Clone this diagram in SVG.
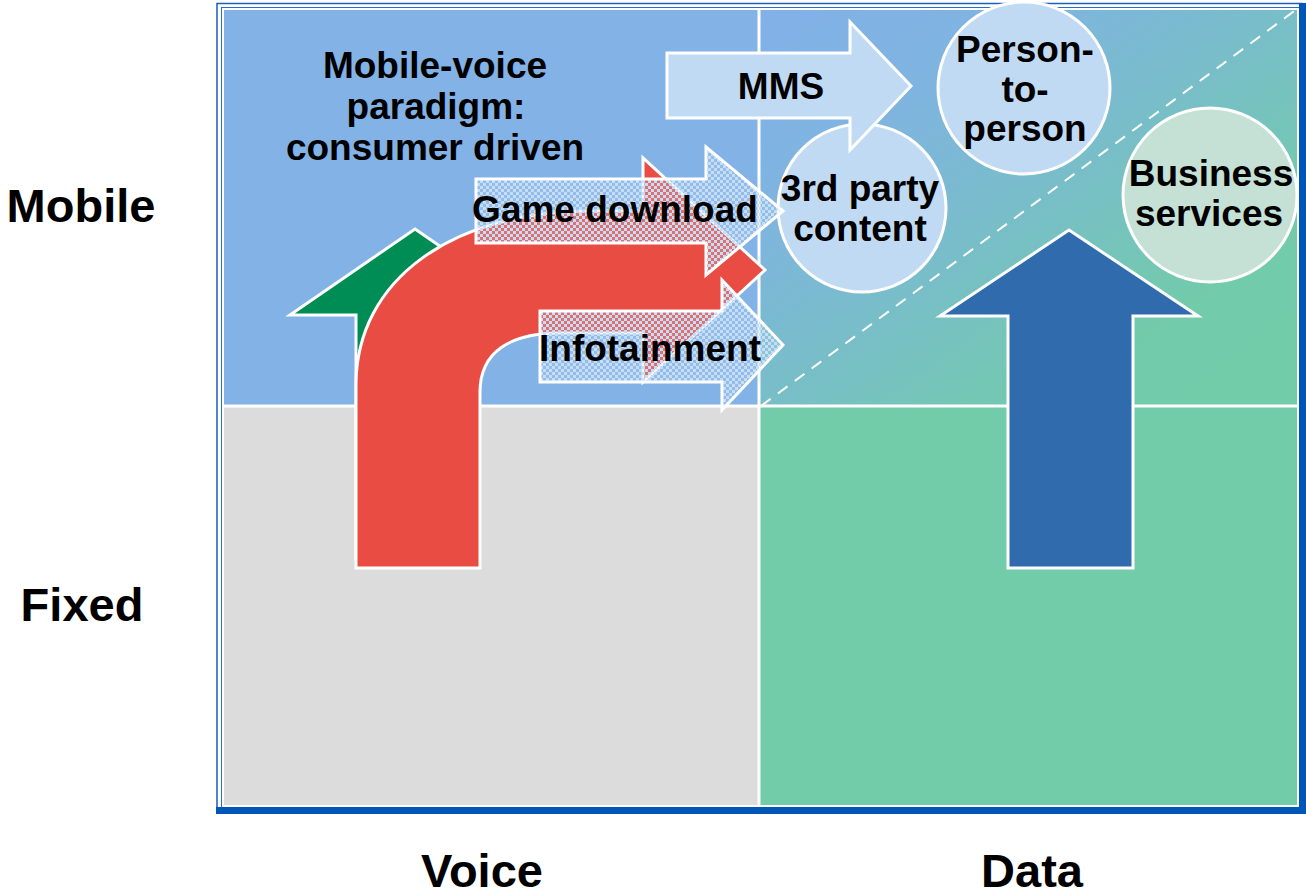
<svg xmlns="http://www.w3.org/2000/svg" width="1306" height="896" viewBox="0 0 1306 896">
  <style>
    .lbl { font-family: "Liberation Sans", Arial, sans-serif; font-weight: bold; fill: #000; }
    .axis { font-size: 47px; text-anchor: middle; }
    .inner { font-size: 37px; text-anchor: middle; }
    .wstroke { stroke: #fff; stroke-width: 3; stroke-linejoin: miter; }
    .bubble { fill: #C1DAF4; stroke: #fff; stroke-width: 3; }
  </style>
  <defs>
    <linearGradient id="trGrad" x1="0" y1="0" x2="1" y2="1">
      <stop offset="0" stop-color="#82B1E8"/>
      <stop offset="0.25" stop-color="#7FB4E0"/>
      <stop offset="0.5" stop-color="#78BEC8"/>
      <stop offset="0.78" stop-color="#72CBAA"/>
      <stop offset="1" stop-color="#72CCA9"/>
    </linearGradient>
    <pattern id="checker" width="6" height="6" patternUnits="userSpaceOnUse">
      <rect x="0" y="0" width="3" height="3" fill="#C6DDF6"/>
      <rect x="3" y="3" width="3" height="3" fill="#C6DDF6"/>
      <rect x="3" y="0" width="3" height="3" fill="#C6DDF6" fill-opacity="0.25"/>
      <rect x="0" y="3" width="3" height="3" fill="#C6DDF6" fill-opacity="0.25"/>
    </pattern>
  </defs>

  <rect width="1306" height="896" fill="#fff"/>

  <g id="frame">
    <rect x="217" y="3.5" width="1085" height="807" fill="#fff" stroke="#1A5EC2" stroke-width="1.5"/>
    <rect x="221.5" y="7.5" width="1078" height="800" fill="none" stroke="#2C6BCB" stroke-width="1"/>
    <rect x="222" y="8" width="537" height="398" fill="#82B2E6"/>
    <rect x="759" y="8" width="540" height="398" fill="url(#trGrad)"/>
    <rect x="222" y="406" width="537" height="400" fill="#DCDCDC"/>
    <rect x="759" y="406" width="540" height="400" fill="#72CBA9"/>
    <line x1="759" y1="8" x2="759" y2="806" stroke="#fff" stroke-width="3"/>
    <line x1="222" y1="406" x2="1299" y2="406" stroke="#fff" stroke-width="3"/>
    <rect x="223" y="9" width="1075" height="797" fill="none" stroke="#fff" stroke-width="2"/>
    <rect x="216" y="807" width="1090" height="7" fill="#0055B8"/>
    <rect x="1299" y="3" width="7" height="811" fill="#0055B8"/>
    <line x1="761" y1="406" x2="1297" y2="9" stroke="#fff" stroke-width="2" stroke-dasharray="12 9"/>
  </g>

  <g id="axis-labels" class="lbl axis">
    <text x="81" y="222">Mobile</text>
    <text x="82" y="621">Fixed</text>
    <text x="482" y="887">Voice</text>
    <text x="1032" y="887">Data</text>
  </g>

  <g id="connectors">
    <path id="green-arrow" class="wstroke" fill="#008C55" d="M 415,229 L 540,315 L 474,315 L 474,560 L 356,560 L 356,315 L 290,315 Z"/>
    <path id="red-arrow" class="wstroke" fill="#E84C43" d="M 356,568 L 356,385 C 356,280 452,211 592,211 L 643,211 L 643,158 L 765,270 L 643,382 L 643,333 L 560,333 C 510,333 480,352 480,392 L 480,568 Z"/>
    <path id="blue-arrow" class="wstroke" fill="#2F6BAD" d="M 1069,230 L 1198,316 L 1133,316 L 1133,568 L 1008,568 L 1008,316 L 940,316 Z"/>
  </g>

  <g id="node-person">
    <circle class="bubble" cx="1024" cy="88" r="86"/>
    <text class="lbl inner" x="1025" y="62">Person-</text>
    <text class="lbl inner" x="1025" y="102">to-</text>
    <text class="lbl inner" x="1025" y="141">person</text>
  </g>

  <g id="node-business">
    <circle class="bubble" cx="1210" cy="195" r="87" fill="#C5E0D5" style="fill:#C5E0D5"/>
    <text class="lbl inner" x="1211" y="186">Business</text>
    <text class="lbl inner" x="1209" y="226">services</text>
  </g>

  <g id="node-3rdparty">
    <circle class="bubble" cx="862" cy="208" r="84"/>
    <text class="lbl inner" x="860" y="201">3rd party</text>
    <text class="lbl inner" x="860" y="241">content</text>
  </g>

  <g id="node-mms">
    <path class="wstroke" fill="#C1DAF4" d="M 667,53 L 850,53 L 850,22 L 911,86 L 850,150 L 850,118 L 667,118 Z"/>
    <text class="lbl inner" x="781" y="99">MMS</text>
  </g>

  <g id="node-game">
    <path class="wstroke" fill="url(#checker)" d="M 476,179 L 706,179 L 706,147 L 783,211 L 706,275 L 706,243 L 476,243 Z"/>
    <text class="lbl inner" x="615" y="222">Game download</text>
  </g>

  <g id="node-infotainment">
    <path class="wstroke" fill="url(#checker)" d="M 540,311 L 722,311 L 722,280 L 783,345 L 722,410 L 722,382 L 540,382 Z"/>
    <text class="lbl inner" x="650" y="361">Infotainment</text>
  </g>

  <g id="node-paradigm" class="lbl inner">
    <text x="435" y="78">Mobile-voice</text>
    <text x="436" y="119">paradigm:</text>
    <text x="435" y="160">consumer driven</text>
  </g>
</svg>
